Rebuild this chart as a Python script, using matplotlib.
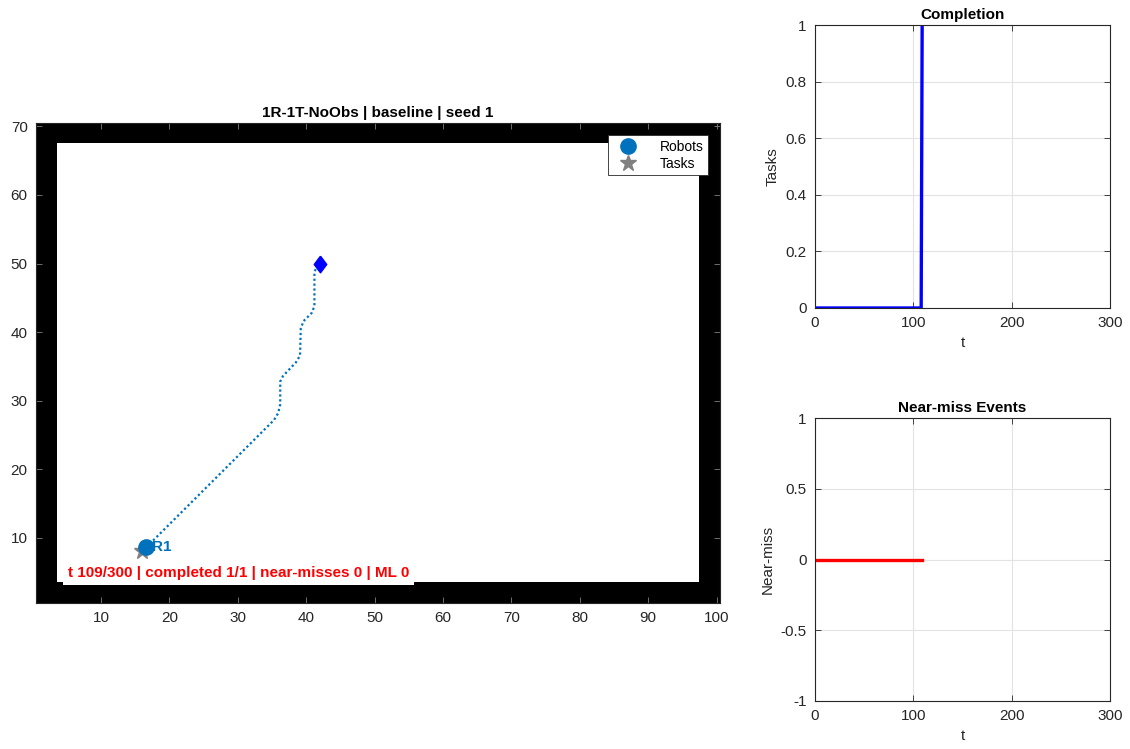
"""
Snapshot of a single-robot / single-task run: occupancy map with the robot
trail, plus completion and near-miss traces on the right.
"""

import numpy as np
import matplotlib
matplotlib.use("Agg")
import matplotlib.pyplot as plt

plt.rcParams.update({
    "font.family": ["Liberation Sans", "DejaVu Sans"],
    "font.size": 11,
    "axes.edgecolor": "#262626",
    "axes.linewidth": 0.8,
    "xtick.color": "#262626",
    "ytick.color": "#262626",
    "xtick.direction": "in",
    "ytick.direction": "in",
    "xtick.top": True,
    "ytick.right": True,
    "xtick.major.size": 4,
    "ytick.major.size": 4,
    "xtick.major.width": 0.6,
    "ytick.major.width": 0.6,
})

ROBOT_BLUE = "#0072BD"
TEXT = "#262626"

# map: 100 x 70 cells, wall thickness in cells
MAP_W, MAP_H = 100, 70
WALL = 3

# robot trail, start -> goal (x, y)
trail_x = [16.6, 18.0, 34.3, 35.3, 35.9, 36.2, 36.2, 36.6, 38.5, 39.1,
           39.2, 39.6, 40.8, 41.2, 41.2, 41.6, 42.0]
trail_y = [8.6, 10.0, 26.2, 27.2, 28.2, 29.5, 32.8, 33.6, 35.6, 36.6,
           40.5, 41.6, 42.8, 43.8, 48.8, 49.6, 50.0]
robot_pos = (16.6, 8.6)
task_pos = (16.0, 8.1)
goal_pos = (42.0, 50.0)

# time series
t_done = [0, 108, 109]
n_done = [0, 0, 1]
t_nm = [0, 109]
n_nm = [0, 0]

T_MAX = 300
step, n_tasks, near_misses, ml = 109, 1, 0, 0

free = np.ones((MAP_H, MAP_W))
free[:WALL, :] = 0
free[-WALL:, :] = 0
free[:, :WALL] = 0
free[:, -WALL:] = 0

fig = plt.figure(figsize=(11.30, 7.49), dpi=100, facecolor="white")

# ---- map panel ----
ax = fig.add_axes([0.0319, 0.1949, 0.6053, 0.6409])
ax.imshow(free, cmap="gray", vmin=0, vmax=1, origin="lower",
          extent=(0.5, MAP_W + 0.5, 0.5, MAP_H + 0.5),
          interpolation="nearest", aspect="auto", zorder=0)
ax.set_xlim(0.5, MAP_W + 0.5)
ax.set_ylim(0.5, MAP_H + 0.5)
ax.set_xticks(range(10, 101, 10))
ax.set_yticks(range(10, 71, 10))
ax.tick_params(colors="#808080", labelcolor=TEXT, labelsize=11, pad=6)

ax.plot(trail_x, trail_y, color=ROBOT_BLUE, lw=1.6, ls=(0, (1, 1.2)), zorder=2)
diamond = [(0, 1), (0.75, 0), (0, -1), (-0.75, 0), (0, 1)]
ax.plot(*goal_pos, marker=diamond, markersize=12, color="blue",
        linestyle="none", zorder=3)
ax.plot(*task_pos, marker="*", markersize=12, color="#808080",
        linestyle="none", zorder=3, label="Tasks")
ax.plot(*robot_pos, marker="o", markersize=11, color=ROBOT_BLUE,
        linestyle="none", zorder=4, label="Robots")
ax.text(robot_pos[0] + 0.9, robot_pos[1] + 0.1, "R1", color=ROBOT_BLUE,
        fontsize=11, fontweight="bold", va="center", ha="left", zorder=5)

ax.text(5.2, 4.9,
        f"t {step}/{T_MAX} | completed {n_tasks}/{n_tasks} | "
        f"near-misses {near_misses} | ML {ml}",
        color="red", fontsize=11, fontweight="bold", va="center", ha="left",
        bbox=dict(facecolor="white", edgecolor="none", pad=3.5), zorder=5)

handles, labels = ax.get_legend_handles_labels()
leg = ax.legend(handles[::-1], labels[::-1], loc="upper right", fontsize=10,
                fancybox=False, framealpha=1, edgecolor=TEXT,
                borderaxespad=0.9, handlelength=2.2, handletextpad=1.2,
                borderpad=0.3, labelspacing=0.25, markerfirst=True)
leg.get_frame().set_linewidth(0.6)
ax.set_title("1R-1T-NoObs | baseline | seed 1", fontsize=11,
             fontweight="bold", pad=4)

# ---- completion panel ----
ax_c = fig.add_axes([0.7212, 0.5888, 0.2611, 0.3778])
ax_c.plot(t_done, n_done, color="blue", lw=2.4)
ax_c.set_xlim(0, T_MAX)
ax_c.set_ylim(0, 1)
ax_c.set_xticks([0, 100, 200, 300])
ax_c.set_yticks(np.round(np.arange(0, 1.01, 0.2), 1))
ax_c.set_yticklabels(["0", "0.2", "0.4", "0.6", "0.8", "1"])
ax_c.grid(True, color="#e3e3e3", lw=0.8)
ax_c.set_axisbelow(True)
ax_c.set_title("Completion", fontsize=11, fontweight="bold", pad=4)
ax_c.set_xlabel("t", fontsize=11, color=TEXT)
ax_c.set_ylabel("Tasks", fontsize=11, color=TEXT)
ax_c.tick_params(labelsize=11, pad=6)

# ---- near-miss panel ----
ax_n = fig.add_axes([0.7212, 0.0641, 0.2611, 0.3778])
ax_n.plot(t_nm, n_nm, color="red", lw=2.4)
ax_n.set_xlim(0, T_MAX)
ax_n.set_ylim(-1, 1)
ax_n.set_xticks([0, 100, 200, 300])
ax_n.set_yticks([-1, -0.5, 0, 0.5, 1])
ax_n.set_yticklabels(["-1", "-0.5", "0", "0.5", "1"])
ax_n.grid(True, color="#e3e3e3", lw=0.8)
ax_n.set_axisbelow(True)
ax_n.set_title("Near-miss Events", fontsize=11, fontweight="bold", pad=4)
ax_n.set_xlabel("t", fontsize=11, color=TEXT)
ax_n.set_ylabel("Near-miss", fontsize=11, color=TEXT)
ax_n.tick_params(labelsize=11, pad=6)

fig.savefig("out.png", dpi=100, facecolor="white")
